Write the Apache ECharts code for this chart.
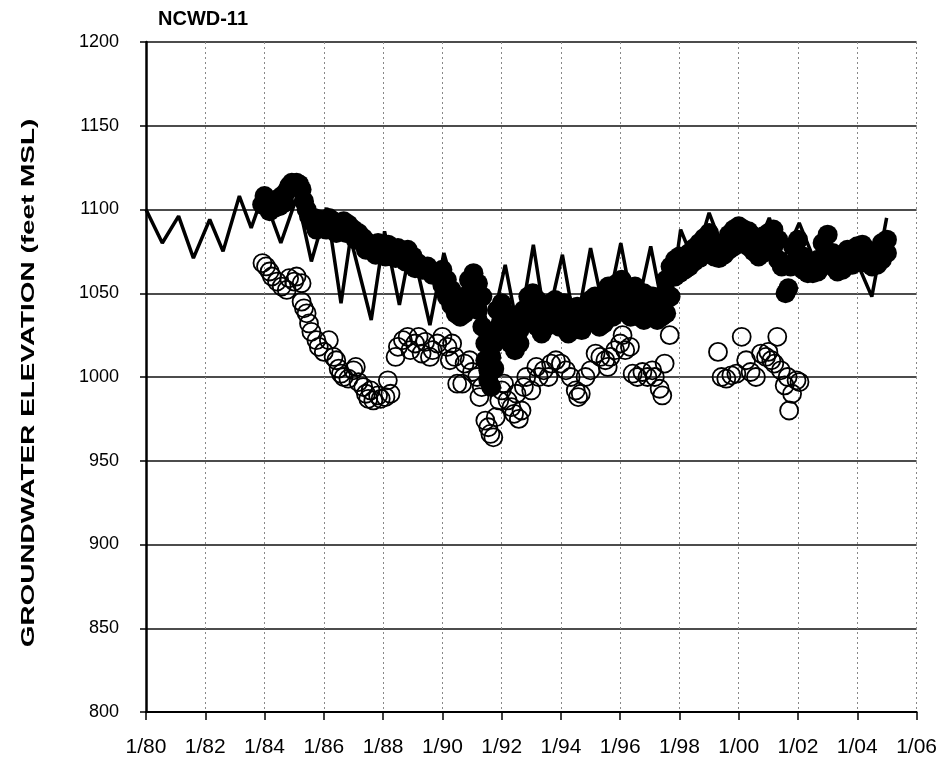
<!DOCTYPE html>
<html>
<head>
<meta charset="utf-8">
<script src="https://cdn.jsdelivr.net/npm/echarts@6/dist/echarts.min.js"></script>
<style>
html,body{margin:0;padding:0;background:#fff;}
#chart{width:940px;height:769px;}
</style>
</head>
<body>
<div id="chart"></div>
<script>
// Tick labels for the x axis (one per 2 years, 1980..2006)
const xTickLabels = ['1/80','1/82','1/84','1/86','1/88','1/90','1/92','1/94','1/96','1/98','1/00','1/02','1/04','1/06'];
const yAxisTitle = 'GROUNDWATER ELEVATION (feet MSL)';
const chartTitle = 'NCWD-11';

// Solid line (simulated groundwater elevation) [decimal year, feet MSL]
const simulatedLine = [
[1980.0,1100],[1980.55,1080],[1981.1,1096],[1981.6,1071],[1982.15,1094],[1982.6,1075],
[1983.15,1108],[1983.55,1089],[1983.95,1109],[1984.55,1080],[1985.1,1108],[1985.58,1069],
[1986.1,1101],[1986.58,1044],[1986.9,1083],[1987.6,1034],[1988.05,1087],[1988.55,1043],
[1988.95,1080],[1989.58,1031],[1990.05,1074],[1990.6,1040],[1991.15,1057],[1991.6,1025],
[1992.12,1067],[1992.57,1026],[1993.07,1079],[1993.5,1030],[1994.05,1073],[1994.5,1028],
[1995.0,1077],[1995.5,1035],[1996.02,1080],[1996.5,1035],[1997.03,1078],[1997.45,1040],
[1997.7,1045],[1998.04,1088],[1998.5,1068],[1999.0,1098],[1999.5,1075],[2000.0,1095],
[2000.5,1072],[2001.03,1095],[2001.5,1070],[2002.04,1092],[2002.5,1072],[2003.0,1080],
[2003.48,1064],[2003.88,1073],[2004.49,1048],[2004.99,1095]
];

// Filled circles (measured) [decimal year, feet MSL]
const measuredFilled = [
[1983.92,1103],[1984.0,1108],[1984.08,1102],[1984.17,1099],[1984.25,1104],[1984.33,1101],[1984.42,1106],
[1984.5,1102],[1984.58,1108],[1984.67,1104],[1984.75,1111],[1984.83,1114],[1984.92,1116],[1985.0,1114],
[1985.08,1116],[1985.17,1115],[1985.25,1112],[1985.33,1105],[1985.42,1100],[1985.5,1096],[1985.58,1093],
[1985.67,1095],[1985.75,1092],[1985.83,1094],[1986.0,1093],[1986.17,1095],[1986.33,1093],[1986.5,1091],
[1986.67,1093],[1986.83,1091],[1987.0,1088],[1987.17,1086],[1987.33,1083],[1987.5,1080],[1987.67,1078],
[1987.83,1080],[1988.0,1077],[1988.17,1079],[1988.33,1076],[1988.5,1077],[1988.67,1075],[1988.83,1076],
[1985.75,1088],[1986.08,1088],[1986.42,1086],[1986.75,1086],[1987.08,1082],[1987.42,1076],[1987.75,1073],
[1988.08,1072],[1988.42,1071],[1988.75,1069],[1989.08,1065],
[1989.0,1072],[1989.17,1068],[1989.33,1064],[1989.5,1066],[1989.67,1061],[1989.83,1062],
[1990.0,1064],[1990.0,1055],[1990.15,1058],[1990.15,1048],[1990.3,1052],[1990.3,1043],[1990.45,1046],[1990.45,1038],
[1990.6,1040],[1990.6,1036],[1990.75,1048],[1990.75,1038],[1990.9,1058],[1990.9,1042],[1991.05,1062],[1991.05,1046],
[1991.2,1056],[1991.2,1040],[1991.35,1048],[1991.35,1030],[1991.45,1020],[1991.45,1010],[1991.55,1004],[1991.55,998],
[1991.65,994],[1991.65,1012],[1991.75,1005],[1991.75,1020],[1991.85,1040],[1991.85,1028],[1992.0,1044],[1992.0,1032],
[1992.15,1038],[1992.15,1026],[1992.3,1030],[1992.3,1020],[1992.45,1024],[1992.45,1016],[1992.6,1020],[1992.6,1028],
[1992.75,1032],[1992.75,1040],[1992.9,1048],[1992.9,1036],[1993.05,1050],[1993.05,1040],[1993.2,1046],[1993.2,1030],
[1993.35,1036],[1993.35,1026],[1993.5,1040],[1993.5,1030],[1993.65,1044],[1993.65,1032],[1993.8,1046],[1993.8,1036],
[1993.95,1040],[1993.95,1030],[1994.1,1044],[1994.1,1034],[1994.25,1038],[1994.25,1026],[1994.4,1036],[1994.4,1028],
[1994.55,1042],[1994.55,1032],[1994.7,1036],[1994.7,1028],[1994.85,1040],[1994.85,1032],[1995.0,1046],[1995.0,1036],
[1995.15,1048],[1995.15,1034],[1995.3,1040],[1995.3,1030],[1995.45,1044],[1995.45,1032],[1995.6,1054],[1995.6,1040],
[1995.75,1050],[1995.75,1036],[1995.9,1056],[1995.9,1042],[1996.05,1058],[1996.05,1044],[1996.2,1052],[1996.2,1040],
[1996.35,1050],[1996.35,1036],[1996.5,1054],[1996.5,1040],[1996.65,1048],[1996.65,1036],[1996.8,1050],[1996.8,1034],
[1996.95,1046],[1996.95,1036],[1997.1,1048],[1997.1,1038],[1997.25,1044],[1997.25,1034],[1997.4,1048],[1997.4,1036],
[1997.55,1058],[1997.55,1038],[1997.7,1066],[1997.7,1048],[1997.85,1070],[1997.85,1060],
[1998.0,1072],[1998.0,1062],[1998.17,1070],[1998.17,1064],[1998.33,1074],[1998.33,1066],[1998.5,1077],[1998.5,1069],
[1998.67,1080],[1998.67,1071],[1998.83,1083],[1998.83,1074],[1999.0,1086],[1999.0,1076],[1999.17,1080],[1999.17,1072],
[1999.33,1078],[1999.33,1071],[1999.5,1080],[1999.5,1073],[1999.67,1085],[1999.67,1076],[1999.83,1088],[1999.83,1078],
[2000.0,1090],[2000.0,1080],[2000.17,1088],[2000.17,1080],[2000.33,1087],[2000.33,1078],[2000.5,1084],[2000.5,1075],
[2000.67,1080],[2000.67,1072],[2000.83,1084],[2000.83,1074],[2001.0,1086],[2001.0,1076],[2001.17,1088],[2001.17,1078],
[2001.33,1082],[2001.33,1070],[2001.45,1066],[2001.58,1050],[2001.67,1053],[2001.75,1066],
[2001.83,1078],[2001.83,1068],[2002.0,1082],[2002.0,1070],[2002.17,1072],[2002.17,1064],[2002.33,1068],[2002.33,1062],
[2002.5,1066],[2002.5,1062],[2002.67,1070],[2002.67,1063],[2002.83,1080],[2002.83,1068],[2003.0,1085],[2003.0,1072],
[2003.17,1074],[2003.17,1066],[2003.33,1068],[2003.33,1063],[2003.5,1072],[2003.5,1064],[2003.67,1076],[2003.67,1068],
[2003.83,1074],[2003.83,1067],[2004.0,1078],[2004.0,1070],[2004.17,1079],[2004.17,1072],[2004.33,1076],[2004.33,1068],
[2004.5,1072],[2004.5,1066],[2004.67,1074],[2004.67,1067],[2004.83,1080],[2004.83,1070],[2005.0,1082],[2005.0,1074]
];

// Open circles (measured, second record) [decimal year, feet MSL]
const measuredOpen = [
[1983.93,1068],[1984.05,1066],[1984.17,1063],[1984.25,1060],[1984.42,1057],[1984.58,1054],[1984.75,1052],
[1984.83,1059],[1985.0,1057],[1985.08,1060],[1985.25,1056],[1985.25,1045],[1985.33,1041],[1985.42,1038],
[1985.5,1032],[1985.58,1027],[1985.75,1022],[1985.83,1018],[1986.0,1015],[1986.17,1022],[1986.33,1012],
[1986.42,1010],[1986.5,1005],[1986.58,1002],[1986.67,1000],[1986.83,999],[1987.0,1004],[1987.08,1006],
[1987.17,997],[1987.33,994],[1987.42,990],[1987.5,987],[1987.58,992],[1987.67,986],[1987.83,989],
[1987.92,987],[1988.08,988],[1988.16,998],[1988.25,990],[1988.42,1012],[1988.5,1018],[1988.67,1022],
[1988.83,1024],[1988.92,1016],[1989.08,1020],[1989.2,1024],[1989.3,1014],[1989.42,1021],[1989.58,1012],
[1989.67,1016],[1989.83,1020],[1990.0,1024],[1990.17,1018],[1990.25,1010],[1990.33,1020],[1990.42,1012],
[1990.5,996],[1990.67,996],[1990.75,1008],[1990.92,1010],[1991.0,1003],[1991.17,1000],[1991.25,988],
[1991.33,994],[1991.45,974],[1991.55,970],[1991.62,966],[1991.72,964],[1991.8,976],[1991.92,986],
[1992.0,992],[1992.08,996],[1992.2,986],[1992.33,982],[1992.42,978],[1992.5,990],[1992.58,975],
[1992.67,980],[1992.75,994],[1992.83,1000],[1993.0,992],[1993.17,1006],[1993.25,1000],[1993.42,1004],
[1993.58,1000],[1993.67,1008],[1993.83,1010],[1994.0,1008],[1994.17,1004],[1994.33,1000],[1994.5,992],
[1994.58,988],[1994.67,990],[1994.83,1000],[1995.0,1004],[1995.17,1014],[1995.33,1012],[1995.5,1010],
[1995.58,1006],[1995.67,1012],[1995.83,1016],[1996.0,1020],[1996.08,1025],[1996.17,1016],[1996.33,1018],
[1996.42,1002],[1996.58,1000],[1996.75,1003],[1996.92,1000],[1997.08,1004],[1997.17,1000],[1997.33,993],
[1997.42,989],[1997.5,1008],[1997.67,1025],
[1999.3,1015],[1999.42,1000],[1999.58,999],[1999.75,1001],[1999.92,1002],[2000.1,1024],[2000.25,1010],
[2000.4,1003],[2000.58,1000],[2000.75,1014],[2000.92,1012],[2001.0,1015],[2001.1,1010],[2001.2,1008],
[2001.3,1024],[2001.42,1004],[2001.55,995],[2001.65,1000],[2001.7,980],[2001.8,990],[2001.95,998],
[2002.05,997]
];

const chart = echarts.init(document.getElementById('chart'));
const FONT = '"Liberation Sans", Arial, sans-serif';
const NARROW = '"Liberation Sans Narrow", "Arial Narrow", "Liberation Sans", Arial, sans-serif';
chart.setOption({
  animation: false,
  backgroundColor: '#ffffff',
  title: {
    text: chartTitle,
    left: 153, top: 4,
    textStyle: {fontFamily: FONT, fontSize: 20, fontWeight: 'bold', color: '#000'}
  },
  grid: {left: 146, right: 20, top: 42, bottom: 57, containLabel: false},
  graphic: [{
    type: 'text',
    x: 29, y: 383,
    rotation: Math.PI / 2,
    scaleX: 1.55,
    style: {
      text: yAxisTitle,
      font: 'bold 18px "Liberation Sans", Arial, sans-serif',
      fill: '#000',
      textAlign: 'center',
      textVerticalAlign: 'middle',
      verticalAlign: 'middle'
    }
  }],
  xAxis: {
    type: 'value', min: 1980, max: 2006, interval: 2,
    axisLine: {show: true, onZero: false, lineStyle: {color: '#000', width: 2}},
    axisTick: {show: true, length: 8, lineStyle: {color: '#000', width: 1.5}},
    axisLabel: {
      margin: 25, fontFamily: NARROW, fontSize: 21, color: '#000',
      formatter: v => xTickLabels[Math.round((v - 1980) / 2)]
    },
    splitLine: {show: true, lineStyle: {color: '#888', type: [2, 3], width: 1}}
  },
  yAxis: {
    type: 'value', min: 800, max: 1200, interval: 50,
    axisLine: {show: true, lineStyle: {color: '#000', width: 2.5}},
    axisTick: {show: true, length: 6, lineStyle: {color: '#000', width: 1.5}},
    axisLabel: {margin: 27, fontFamily: FONT, fontSize: 18, color: '#000', formatter: v => String(v)},
    splitLine: {show: true, lineStyle: {color: '#111', width: 1.5}}
  },
  series: [
    {
      name: 'open', type: 'scatter', data: measuredOpen, symbol: 'circle', symbolSize: 18,
      itemStyle: {color: 'rgba(255,255,255,0)', borderColor: '#000', borderWidth: 1.8, opacity: 1},
      z: 2
    },
    {
      name: 'filled', type: 'scatter', data: measuredFilled, symbol: 'circle', symbolSize: 20,
      itemStyle: {color: '#000', borderColor: '#000', borderWidth: 0, opacity: 1},
      z: 3
    },
    {
      name: 'line', type: 'line', data: simulatedLine, showSymbol: false, symbol: 'none',
      lineStyle: {color: '#000', width: 3.5}, z: 4
    }
  ]
});
</script>
</body>
</html>
